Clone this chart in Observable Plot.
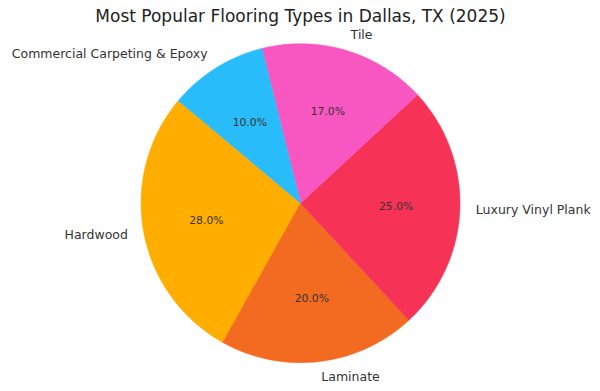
<!DOCTYPE html>
<html>
<head>
<meta charset="utf-8">
<script src="https://cdn.jsdelivr.net/npm/d3@7"></script>
<script src="https://cdn.jsdelivr.net/npm/@observablehq/plot@0.6"></script>
<style>
  html, body { margin: 0; padding: 0; background: #fff; }
  #chart svg { display: block; }
</style>
</head>
<body>
<div id="chart"></div>
<script>
// Data (matplotlib order, counterclockwise from start angle)
const categories = ["Hardwood", "Laminate", "Luxury Vinyl Plank", "Tile", "Commercial Carpeting & Epoxy"];
const shares = [28, 20, 25, 17, 10];
const colors = ["#FFAE00", "#F26B21", "#F63257", "#F857C1", "#29BCFA"];
const title = "Most Popular Flooring Types in Dallas, TX (2025)";
const startAngle = 140; // degrees, counterclockwise like matplotlib

const W = 600, H = 391;
const cx = 300, cy = 202.7, R = 159.5; // pixel layout of the pie
const total = d3.sum(shares);

// Build slice polygons in unit-circle coordinates
const slicePts = [];
const labels = [];
const pcts = [];
let a0 = startAngle;
shares.forEach((v, i) => {
  const span = v / total * 360;
  const a1 = a0 + span;
  const n = Math.max(8, Math.ceil(span / 1));
  slicePts.push({cat: categories[i], x: 0, y: 0, k: -1});
  for (let j = 0; j <= n; j++) {
    const t = (a0 + span * j / n) * Math.PI / 180;
    slicePts.push({cat: categories[i], x: Math.cos(t), y: Math.sin(t), k: j});
  }
  slicePts.push({cat: categories[i], x: 0, y: 0, k: n + 1});
  const mid = (a0 + a1) / 2 * Math.PI / 180;
  const lx = 1.1 * Math.cos(mid), ly = 1.1 * Math.sin(mid);
  labels.push({cat: categories[i], x: lx, y: ly, anchor: lx >= 0 ? "start" : "end"});
  pcts.push({cat: categories[i], x: 0.6 * Math.cos(mid), y: 0.6 * Math.sin(mid), text: (v / total * 100).toFixed(1) + "%"});
  a0 = a1;
});

const xDom = [-cx / R, (W - cx) / R];
const yDom = [-(H - cy) / R, cy / R];

const chart = Plot.plot({
  width: W,
  height: H,
  margin: 0,
  style: {fontFamily: "DejaVu Sans, sans-serif", background: "#fff"},
  x: {domain: xDom, axis: null},
  y: {domain: yDom, axis: null},
  color: {domain: categories, range: colors},
  marks: [
    Plot.line(slicePts, {x: "x", y: "y", z: "cat", fill: "cat", stroke: "cat", strokeWidth: 0.5, curve: "linear-closed"}),
    Plot.text(pcts, {x: "x", y: "y", text: "text", fontSize: 10.8, fill: "#333"}),
    Plot.text(labels.filter(d => d.anchor === "start"), {x: "x", y: "y", text: "cat", textAnchor: "start", fontSize: 12.5, fill: "#333"}),
    Plot.text(labels.filter(d => d.anchor === "end"), {x: "x", y: "y", text: "cat", textAnchor: "end", fontSize: 12.5, fill: "#333"}),
    Plot.text([title], {frameAnchor: "top", dy: 16, text: d => d, fontSize: 17, fill: "#222", lineAnchor: "middle"})
  ]
});
document.getElementById("chart").appendChild(chart);
</script>
</body>
</html>
